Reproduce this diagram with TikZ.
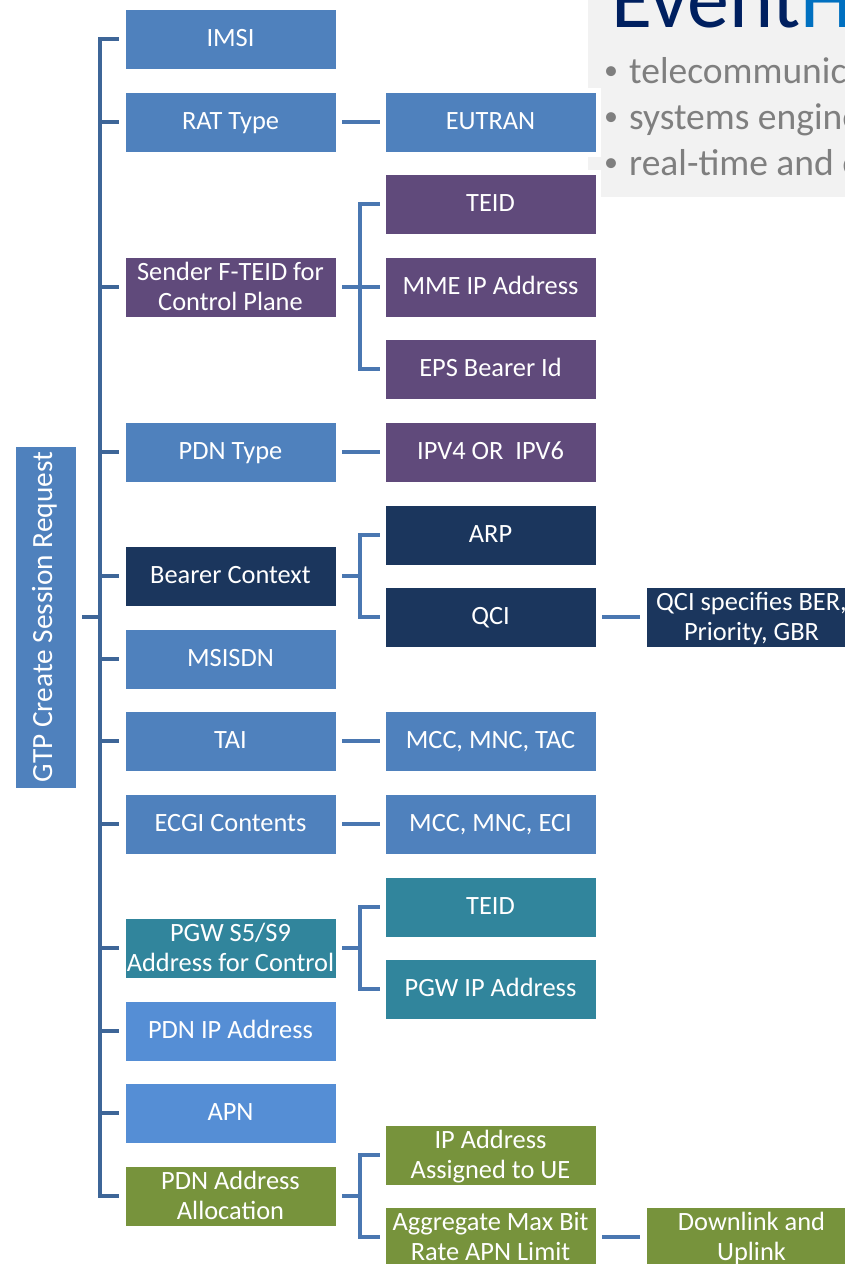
\documentclass[tikz,border=0pt]{standalone}
\usepackage{fontspec}
\setmainfont{Carlito}
\definecolor{bA}{RGB}{79,129,189}
\definecolor{bL}{RGB}{85,142,213}
\definecolor{pu}{RGB}{96,74,123}
\definecolor{nv}{RGB}{27,54,93}
\definecolor{tl}{RGB}{49,133,156}
\definecolor{gr}{RGB}{119,147,60}
\definecolor{trk}{RGB}{62,102,152}
\definecolor{sbc}{RGB}{74,119,177}
\definecolor{gbg}{RGB}{242,242,242}
\definecolor{ttl}{RGB}{0,32,96}
\definecolor{ttlb}{RGB}{0,112,192}
\definecolor{bul}{RGB}{127,127,127}
\tikzset{
  box/.style={rectangle, minimum width=211pt, minimum height=60pt, inner sep=0pt,
    text=white, align=center, font=\fontsize{26.4}{30}\selectfont,
    draw=white, line width=0.8pt, preaction={draw=white, line width=9pt}},
  one/.style={text height=17.5pt, text depth=3pt},
  two/.style={text height=47.5pt, text depth=0pt},
  trunk/.style={draw=trk, line width=4.5pt},
  subln/.style={draw=sbc, line width=4.5pt},
  bullettxt/.style={anchor=base west, inner sep=0pt, text=bul, font=\fontsize{37.5}{40}\selectfont},
  bulletdot/.style={anchor=center, inner sep=0pt, text=bul, font=\fontsize{28}{30}\selectfont}
}
\begin{document}
\begin{tikzpicture}[x=1pt,y=-1pt]
\useasboundingbox (0,0) rectangle (845,1264);
\clip (0,0) rectangle (845,1264);
% background panel
\fill[gbg] (588,-5) rectangle (850,197);
\node[anchor=base west, inner sep=0pt, font=\fontsize{84}{84}\selectfont] (title) at (611,27) {\textcolor{ttl}{Event}\textcolor{ttlb}{H}};
\node[bulletdot] (b1) at (611,73) {•};
\node[bullettxt] (t1) at (629,83) {telecommunications};
\node[bulletdot] (b2) at (611,119) {•};
\node[bullettxt] (t2) at (629,129) {systems engineering};
\node[bulletdot] (b3) at (611,165) {•};
\node[bullettxt] (t3) at (629,175) {real-time and embedded};

% root
\node[box, fill=bA, minimum width=61pt, minimum height=342pt] (root) at (45.5,617) {};
\node[rotate=90, text=white, inner sep=0pt, font=\fontsize{29.3}{32}\selectfont] (roottxt) at ([xshift=-1pt]root.center) {GTP Create Session Request};

% left column
\node[box, one, fill=bA] (imsi) at (230.5,39) {IMSI};
\node[box, one, fill=bA] (rat) at (230.5,122) {RAT Type};
\node[box, two, fill=pu] (sender) at (230.5,287) {Sender F-TEID for\\Control Plane};
\node[box, one, fill=bA] (pdntype) at (230.5,452) {PDN Type};
\node[box, one, fill=nv] (bearer) at (230.5,576) {Bearer Context};
\node[box, one, fill=bA] (msisdn) at (230.5,659) {MSISDN};
\node[box, one, fill=bA] (tai) at (230.5,741) {TAI};
\node[box, one, fill=bA] (ecgi) at (230.5,824) {ECGI Contents};
\node[box, two, fill=tl] (pgw) at (230.5,948) {PGW S5/S9\\Address for Control};
\node[box, one, fill=bL] (pdnip) at (230.5,1031) {PDN IP Address};
\node[box, one, fill=bL] (apn) at (230.5,1113) {APN};
\node[box, two, fill=gr] (pdnaa) at (230.5,1196) {PDN Address\\Allocation};

% right column
\node[box, one, fill=bA] (eutran) at (490.5,122) {EUTRAN};
\node[box, one, fill=pu] (teida) at (490.5,204) {TEID};
\node[box, one, fill=pu] (mme) at (490.5,287) {MME IP Address};
\node[box, one, fill=pu] (eps) at (490.5,369) {EPS Bearer Id};
\node[box, one, fill=pu] (ipv) at (490.5,452) {IPV4 OR\ \ IPV6};
\node[box, one, fill=nv] (arp) at (490.5,535) {ARP};
\node[box, one, fill=nv] (qci) at (490.5,617) {QCI};
\node[box, one, fill=bA] (mcctac) at (490.5,741) {MCC, MNC, TAC};
\node[box, one, fill=bA] (mcceci) at (490.5,824) {MCC, MNC, ECI};
\node[box, one, fill=tl] (teidb) at (490.5,907) {TEID};
\node[box, one, fill=tl] (pgwip) at (490.5,989) {PGW IP Address};
\node[box, two, fill=gr] (ipue) at (490.5,1155) {IP Address\\Assigned to UE};
\node[box, two, fill=gr] (ambr) at (490.5,1237) {Aggregate Max Bit\\Rate APN Limit};

% third column
\node[box, two, fill=nv] (qcispec) at (751.5,617) {QCI specifies BER,\\Priority, GBR};
\node[box, two, fill=gr] (dlul) at (751.5,1237) {Downlink and\\Uplink};

% trunk
\coordinate (T) at (100,617);
\draw[trunk] ([xshift=6pt]root.east) -- (root.east -| T);
\draw[trunk] ([xshift=-6pt]imsi.west) -| (T) |- ([xshift=-6pt]pdnaa.west);
\foreach \n in {rat,sender,pdntype,bearer,msisdn,tai,ecgi,pgw,pdnip,apn}
  \draw[trunk] ([xshift=-6pt]\n.west) -- (\n.west -| T);

% sub brackets
\coordinate (S1) at (360,287);
\draw[subln] ([xshift=6pt]sender.east) -- (S1);
\draw[subln] ([xshift=-5pt]teida.west) -| (S1) |- ([xshift=-5pt]eps.west);
\draw[subln] (S1) -- ([xshift=-5pt]mme.west);

\coordinate (S2) at (360,576);
\draw[subln] ([xshift=6pt]bearer.east) -- (S2);
\draw[subln] ([xshift=-5pt]arp.west) -| (S2) |- ([xshift=-5pt]qci.west);

\coordinate (S3) at (360,948);
\draw[subln] ([xshift=6pt]pgw.east) -- (S3);
\draw[subln] ([xshift=-5pt]teidb.west) -| (S3) |- ([xshift=-5pt]pgwip.west);

\coordinate (S4) at (360,1196);
\draw[subln] ([xshift=6pt]pdnaa.east) -- (S4);
\draw[subln] ([xshift=-5pt]ipue.west) -| (S4) |- ([xshift=-5pt]ambr.west);

% single links
\draw[subln] ([xshift=6pt]rat.east) -- ([xshift=-5pt]eutran.west);
\draw[subln] ([xshift=6pt]pdntype.east) -- ([xshift=-5pt]ipv.west);
\draw[subln] ([xshift=6pt]tai.east) -- ([xshift=-5pt]mcctac.west);
\draw[subln] ([xshift=6pt]ecgi.east) -- ([xshift=-5pt]mcceci.west);
\draw[subln] ([xshift=6pt]qci.east) -- ([xshift=-6pt]qcispec.west);
\draw[subln] ([xshift=6pt]ambr.east) -- ([xshift=-6pt]dlul.west);
\end{tikzpicture}
\end{document}
